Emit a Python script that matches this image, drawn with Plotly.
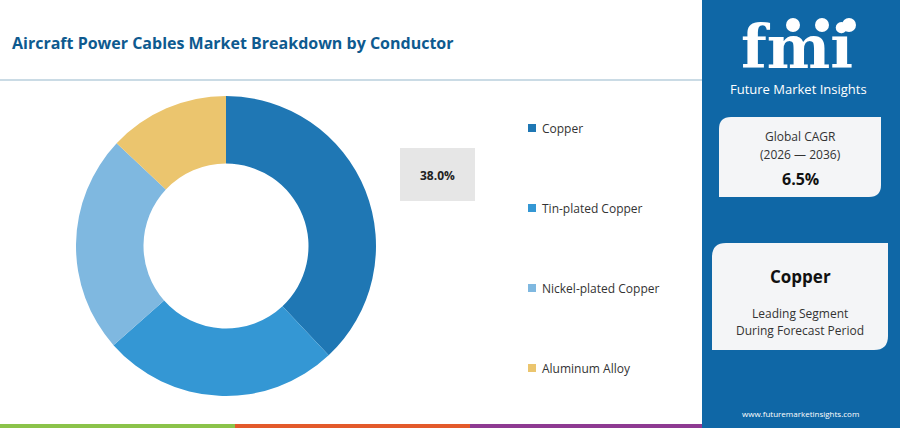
import plotly.graph_objects as go

# ---- data ----
segments = ["Copper", "Tin-plated Copper", "Nickel-plated Copper", "Aluminum Alloy"]
shares = [38.0, 25.5, 23.5, 13.0]
colors = ["#1f77b4", "#3497d4", "#7fb8e0", "#ebc56e"]
title_text = "Aircraft Power Cables Market Breakdown by Conductor"
cagr_label = ["Global CAGR", "(2026 \u2014 2036)"]
cagr_value = "6.5%"
leading_segment = "Copper"
leading_desc = ["Leading Segment", "During Forecast Period"]
stripe_colors = ["#8bc34a", "#e35a2b", "#8e3a92"]

W, H = 900, 428
BLUE = "#0f67a6"
FONT = "Open Sans"


def X(px):
    return px / W


def Y(py):
    return 1 - py / H


fig = go.Figure()

fig.add_trace(go.Pie(
    labels=segments,
    values=shares,
    marker=dict(colors=colors, line=dict(width=0)),
    hole=0.55,
    sort=False,
    direction="clockwise",
    rotation=0,
    textinfo="none",
    hoverinfo="label+percent",
    showlegend=False,
    domain=dict(x=[X(76), X(376)], y=[Y(396), Y(96)]),
))

shapes = []
annotations = []


def text(px, py, s, size, color="#333", anchor="center", family=FONT):
    annotations.append(dict(x=X(px), y=Y(py), xref="paper", yref="paper", xanchor=anchor, yanchor="middle",
                            text=s, showarrow=False, font=dict(family=family, size=size, color=color)))


# title
text(10, 43, "<b>" + title_text + "</b>", 16, "#0e5a8f", "left")
# separator line
shapes.append(dict(type="line", xref="paper", yref="paper", x0=X(0), x1=X(702), y0=Y(80), y1=Y(80),
                   line=dict(color="#b9cfdd", width=1.5)))

# highlighted value box
shapes.append(dict(type="rect", xref="paper", yref="paper", x0=X(400), x1=X(475), y0=Y(201), y1=Y(148),
                   fillcolor="#e6e6e6", line=dict(width=0)))
text(437.5, 175, "<b>%.1f%%</b>" % shares[0], 12, "#222")

# custom legend
for i, (lab, col) in enumerate(zip(segments, colors)):
    yc = 128 + 80 * i
    shapes.append(dict(type="rect", xref="paper", yref="paper", x0=X(528), x1=X(536), y0=Y(yc + 4), y1=Y(yc - 4),
                       fillcolor=col, line=dict(width=0)))
    text(540, yc, lab, 12, "#333", "left")

# bottom stripes
for i, c in enumerate(stripe_colors):
    shapes.append(dict(type="rect", xref="paper", yref="paper", x0=X(235 * i), x1=X(235 * (i + 1) if i < 2 else 702),
                       y0=Y(428), y1=Y(424), fillcolor=c, line=dict(width=0)))

# right panel
shapes.append(dict(type="rect", xref="paper", yref="paper", x0=X(702), x1=X(900), y0=Y(428), y1=Y(0),
                   fillcolor=BLUE, line=dict(width=0)))


def rounded_box(x0, y0, x1, y1, r):
    # rounded top-left and bottom-right corners (pixel coords, y down)
    path = "M %f,%f L %f,%f L %f,%f " % (X(x0 + r), Y(y0), X(x1), Y(y0), X(x1), Y(y1 - r))
    path += "Q %f,%f %f,%f " % (X(x1), Y(y1), X(x1 - r), Y(y1))
    path += "L %f,%f L %f,%f " % (X(x0), Y(y1), X(x0), Y(y0 + r))
    path += "Q %f,%f %f,%f Z" % (X(x0), Y(y0), X(x0 + r), Y(y0))
    return dict(type="path", xref="paper", yref="paper", path=path, fillcolor="#f4f5f7", line=dict(width=0))


shapes.append(rounded_box(719, 117, 881, 197, 12))
shapes.append(rounded_box(712, 243, 888, 350, 14))

text(800, 137, cagr_label[0], 12)
text(800, 154, cagr_label[1], 12)
text(800, 179, "<b>" + cagr_value + "</b>", 16, "#111")
text(800, 276, "<b>" + leading_segment + "</b>", 17, "#111")
text(800, 313, leading_desc[0], 12)
text(800, 330, leading_desc[1], 12)
text(800, 413, "www.futuremarketinsights.com", 8, "white")

# logo
text(797, 47, "<b>fmi</b>", 60, "white", family="DejaVu Serif")
for cx in [793, 822, 849]:
    shapes.append(dict(type="circle", xref="paper", yref="paper", x0=X(cx - 7), x1=X(cx + 7), y0=Y(32), y1=Y(18),
                       fillcolor="white", line=dict(width=0)))
text(798, 89, "Future Market Insights", 13, "white")

fig.update_layout(
    width=W, height=H,
    margin=dict(l=0, r=0, t=0, b=0),
    paper_bgcolor="white",
    plot_bgcolor="white",
    shapes=shapes,
    annotations=annotations,
    showlegend=False,
)

fig.write_html("out.html", config={"displayModeBar": False},
               post_script="document.body.style.margin='0';")
